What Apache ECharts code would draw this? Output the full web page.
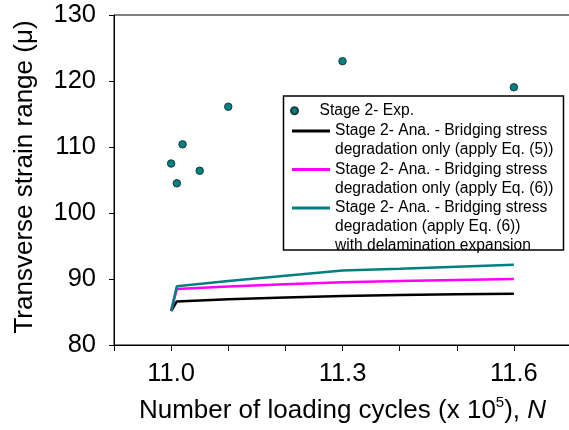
<!DOCTYPE html>
<html>
<head>
<meta charset="utf-8">
<script src="https://cdn.jsdelivr.net/npm/echarts@6/dist/echarts.min.js"></script>
<style>html,body{margin:0;padding:0;background:#fff;}#c{width:569px;height:430px;}</style>
</head>
<body>
<div id="c"></div>
<script>
// ---- data ----
const expX = [11.0, 11.01, 11.02, 11.05, 11.1, 11.3, 11.6];
const expY = [107.5, 104.5, 110.4, 106.4, 116.1, 123.0, 119.05];

const anaX = [11.0, 11.01, 11.1, 11.2, 11.3, 11.4, 11.5, 11.6];
const anaEq5 = [85.15, 86.6, 86.95, 87.2, 87.42, 87.58, 87.68, 87.77];
const anaEq6 = [85.15, 88.5, 88.85, 89.2, 89.5, 89.7, 89.85, 90.0];
const anaEq6Delam = [85.15, 88.9, 89.7, 90.5, 91.3, 91.55, 91.85, 92.15];

const xTickLabels = ['11.0', '11.3', '11.6'];
const yTickLabels = ['80', '90', '100', '110', '120', '130'];

const legendLines = [
  ['Stage 2- Exp.'],
  ['Stage 2- Ana. - Bridging stress', 'degradation only (apply Eq. (5))'],
  ['Stage 2- Ana. - Bridging stress', 'degradation only (apply Eq. (6))'],
  ['Stage 2- Ana. - Bridging stress', 'degradation (apply Eq. (6))', 'with delamination expansion']
];
const seriesNames = legendLines.map(l => l.join(' '));

// ---- chart ----
const FONT = '"Liberation Sans", Arial, sans-serif';
const LH = 19;
const legendCenters = [110.7, 131, 169.5, 208];
const pair = (xs, ys) => xs.map((x, i) => [x, ys[i]]);

const legends = legendLines.map((lines, i) => ({
  orient: 'vertical',
  left: i === 0 ? 290 : 292,
  top: legendCenters[i] - (2 * lines.length - 1) * LH / 2,
  padding: 0,
  itemWidth: i === 0 ? 40 : 38,
  itemHeight: i === 0 ? 7 : 3,
  icon: i === 0 ? 'circle' : 'rect',
  selectedMode: false,
  data: [seriesNames[i]],
  formatter: () => '\n'.repeat(lines.length - 1) + lines.join('\n'),
  textStyle: { fontFamily: FONT, fontSize: 15.6, lineHeight: LH, color: '#000' }
}));

const chart = echarts.init(document.getElementById('c'), null, { renderer: 'canvas' });
chart.setOption({
  animation: false,
  backgroundColor: '#fff',
  grid: { left: 114, top: 15, bottom: 85, right: -2, show: true, borderColor: '#000', borderWidth: 1, outerBoundsMode: 'none' },
  xAxis: {
    type: 'value', min: 10.9, max: 11.7, interval: 0.1,
    name: '{n|Number of loading cycles (x 10}{sup|5}{n|), }{it|N}',
    nameLocation: 'middle', nameGap: 50,
    nameTextStyle: {
      fontFamily: FONT, fontSize: 26, color: '#000', lineHeight: 32,
      rich: {
        n: { fontFamily: FONT, fontSize: 26, color: '#000', lineHeight: 32 },
        sup: { fontFamily: FONT, fontSize: 15, color: '#000', lineHeight: 17, verticalAlign: 'top' },
        it: { fontFamily: FONT, fontSize: 26, color: '#000', fontStyle: 'italic', lineHeight: 32 }
      }
    },
    axisLine: { onZero: false, lineStyle: { color: '#000', width: 1 } },
    axisTick: { show: true, inside: false, length: 6, lineStyle: { color: '#000' } },
    axisLabel: {
      margin: 16, fontFamily: FONT, fontSize: 25.5, color: '#000',
      showMinLabel: true, showMaxLabel: true,
      formatter: v => { const s = v.toFixed(1); return xTickLabels.includes(s) ? s : ''; }
    },
    splitLine: { show: false }
  },
  yAxis: {
    type: 'value', min: 80, max: 130, interval: 10,
    name: 'Transverse strain range (μ)',
    nameLocation: 'middle', nameGap: 76, nameRotate: 90,
    nameTextStyle: { fontFamily: FONT, fontSize: 26, color: '#000', padding: [0, 0, 0, 6] },
    axisLine: { show: true, lineStyle: { color: '#000', width: 1 } },
    axisTick: { show: true, inside: false, length: 5, lineStyle: { color: '#000' } },
    axisLabel: {
      margin: 18, fontFamily: FONT, fontSize: 25.5, color: '#000',
      formatter: v => { const s = String(Math.round(v)); return yTickLabels.includes(s) ? s : ''; }
    },
    splitLine: { show: false }
  },
  legend: legends,
  graphic: [{
    type: 'rect', z: 3,
    shape: { x: 283.5, y: 96, width: 280, height: 154 },
    style: { fill: '#fff', stroke: '#000', lineWidth: 1.5 }
  }],
  series: [
    {
      name: seriesNames[0], type: 'scatter', z: 5,
      data: pair(expX, expY), symbol: 'circle', symbolSize: 7.5,
      itemStyle: { color: '#008080', borderColor: '#1c3c3c', borderWidth: 1, opacity: 1 }
    },
    {
      name: seriesNames[1], type: 'line', data: pair(anaX, anaEq5),
      symbol: 'none', lineStyle: { color: '#000000', width: 2.5 }, itemStyle: { color: '#000000' }
    },
    {
      name: seriesNames[2], type: 'line', data: pair(anaX, anaEq6),
      symbol: 'none', lineStyle: { color: '#ff00ff', width: 2.5 }, itemStyle: { color: '#ff00ff' }
    },
    {
      name: seriesNames[3], type: 'line', data: pair(anaX, anaEq6Delam),
      symbol: 'none', lineStyle: { color: '#008080', width: 2.5 }, itemStyle: { color: '#008080' }
    }
  ]
});
</script>
</body>
</html>
